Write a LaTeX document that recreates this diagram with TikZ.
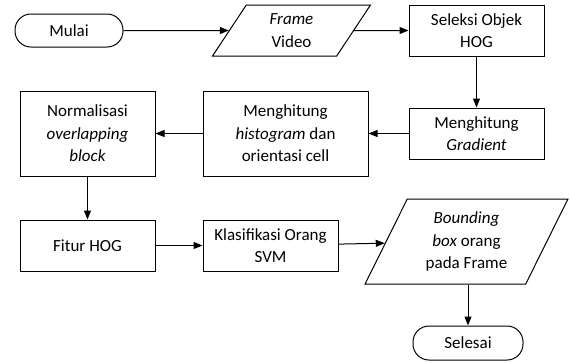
\documentclass[tikz,border=0pt]{standalone}
\usepackage{fontspec}
\setmainfont{Carlito}
\usepackage{tikz}
\usetikzlibrary{arrows.meta, positioning, shapes.geometric}

\begin{document}
\begin{tikzpicture}[
  x=1pt, y=-1pt,
  font=\fontsize{17}{22.5}\selectfont,
  proc/.style={draw, line width=1pt, align=center, minimum width=135pt,
               minimum height=51pt, inner sep=0pt},
  tall/.style={minimum height=85pt},
  term/.style={draw, line width=1pt, rounded corners=16pt, minimum width=108pt,
               minimum height=33pt, inner sep=0pt},
  data/.style={draw, line width=1pt, trapezium, trapezium left angle=64,
               trapezium right angle=116, trapezium stretches=true,
               align=center, inner sep=0pt},
  arrow/.style={-{Triangle[length=9pt, width=7pt]}, line width=1pt}
]
\useasboundingbox (0,0) rectangle (570,362);

\node[term] (mulai) at (69,30.5) {Mulai};
\node[data, minimum width=159pt, minimum height=51pt] (frame) at (291.5,30.5)
  {\textit{Frame}\\Video};
\node[proc] (seleksi) at (476.5,30.5) {Seleksi Objek\\HOG};
\node[proc, below=51pt of seleksi] (gradient) {Menghitung\\\textit{Gradient}};
\node[proc, tall, minimum width=165pt, left=40pt of gradient] (histo)
  {Menghitung\\\textit{histogram} dan\\orientasi cell};
\node[proc, tall, left=47pt of histo] (norm)
  {Normalisasi\\\textit{overlapping}\\\textit{block}};
\node[proc, below=43pt of norm] (fitur) {Fitur HOG};
\node[proc, right=47pt of fitur] (klas) {Klasifikasi Orang\\SVM};
\node[data, minimum width=203pt, minimum height=85pt] (bbox) at (466.5,241.5)
  {\textit{Bounding}\\\textit{box} orang\\pada Frame};
\node[term, minimum width=110pt, minimum height=34pt] (selesai) at (468,343) {Selesai};

\draw[arrow] (mulai) -- (frame);
\draw[arrow] (frame) -- (seleksi);
\draw[arrow] (seleksi) -- (gradient);
\draw[arrow] (gradient) -- (histo);
\draw[arrow] (histo) -- (norm);
\draw[arrow] (norm) -- (fitur);
\draw[arrow] (fitur) -- (klas);
\draw[arrow] (klas) -- (bbox);
\draw[arrow] (selesai.north |- bbox.south) -- (selesai);
\end{tikzpicture}
\end{document}
